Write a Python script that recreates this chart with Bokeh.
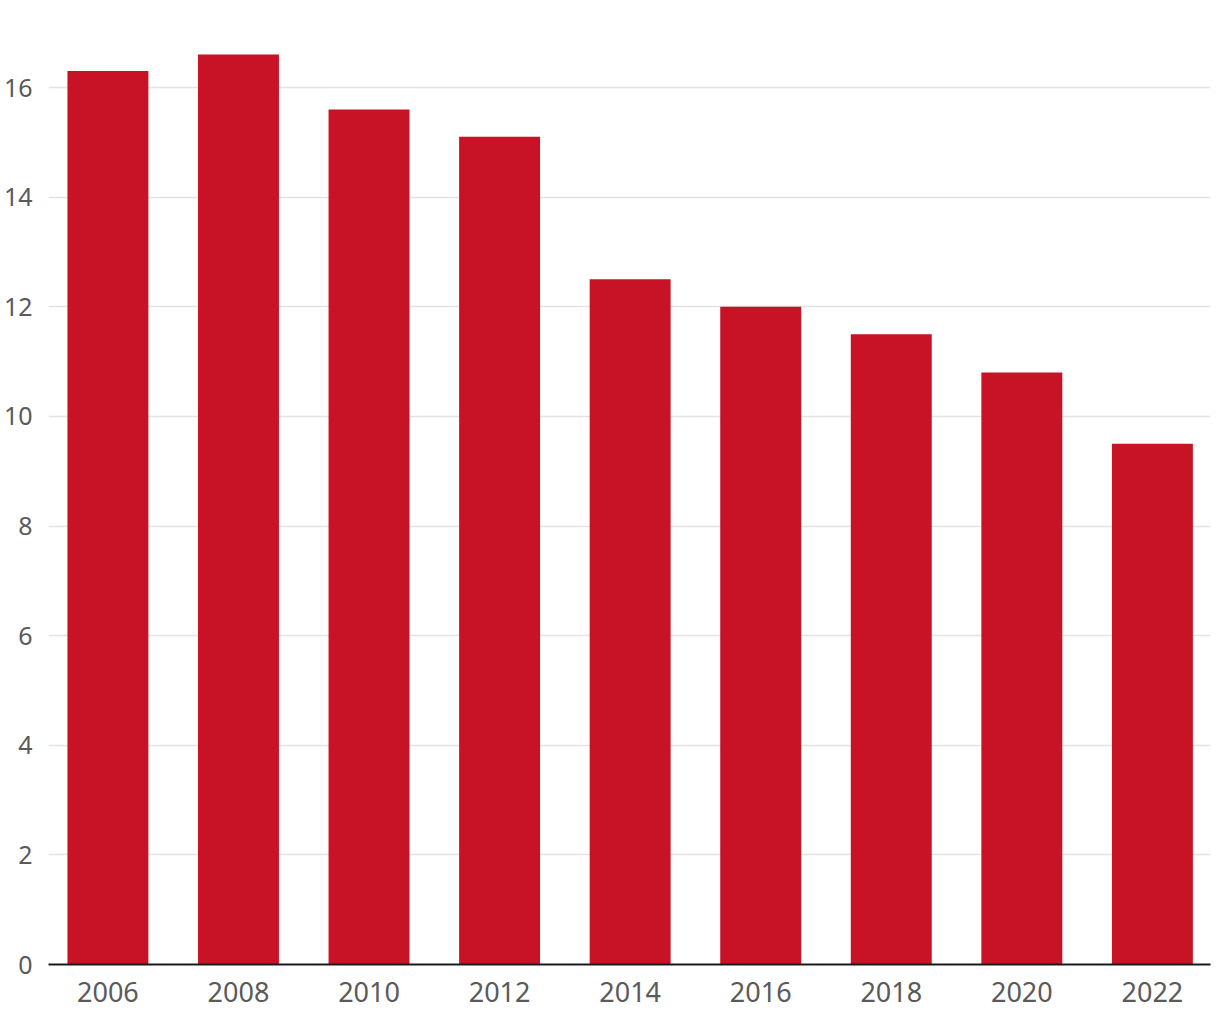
from bokeh.plotting import figure
from bokeh.models import Range1d, FixedTicker, ColumnDataSource
from bokeh.embed import file_html
from bokeh.resources import INLINE

years = [2006, 2008, 2010, 2012, 2014, 2016, 2018, 2020, 2022]
values = [16.3, 16.6, 15.6, 15.1, 12.5, 12.0, 11.5, 10.8, 9.5]
y_ticks = [0, 2, 4, 6, 8, 10, 12, 14, 16]

src = ColumnDataSource(dict(x=years, top=values))

p = figure(width=1212, height=1012, output_backend="svg", toolbar_location=None,
           x_range=Range1d(2005.09, 2022.89), y_range=Range1d(0, 17.405),
           min_border_left=40, min_border_right=2, min_border_top=10, min_border_bottom=48)
p.outline_line_color = None
p.background_fill_color = "white"
p.border_fill_color = "white"

p.vbar(x="x", top="top", bottom=0, width=1.24, source=src,
       fill_color="#C81226", line_color=None)

p.xgrid.grid_line_color = None
p.ygrid.grid_line_color = "#e3e3e3"
p.ygrid.grid_line_width = 1.5

p.xaxis.ticker = FixedTicker(ticks=years)
p.yaxis.ticker = FixedTicker(ticks=y_ticks)

for ax in (p.xaxis[0], p.yaxis[0]):
    ax.major_tick_line_color = None
    ax.minor_tick_line_color = None
    ax.major_label_text_font = "Noto Sans"
    ax.major_label_text_color = "#5a5a5a"

p.xaxis.major_label_text_font_size = "27px"
p.yaxis.major_label_text_font_size = "25px"
p.xaxis.axis_line_color = "#1a1a1a"
p.xaxis.axis_line_width = 2
p.xaxis.major_label_standoff = 11
p.yaxis.axis_line_color = None
p.yaxis.major_label_standoff = 10

open("out.html", "w").write(file_html(p, INLINE))
